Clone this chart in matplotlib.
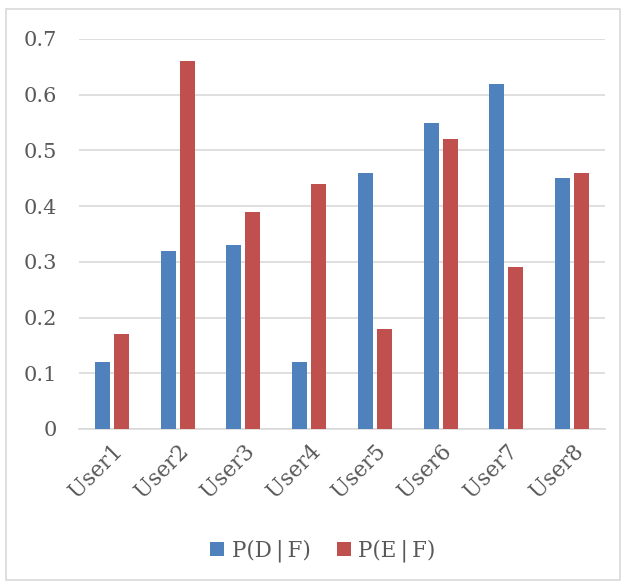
import matplotlib.pyplot as plt
import numpy as np
from matplotlib.patches import Rectangle

plt.rcParams["font.family"] = ["DejaVu Serif"]

users = ["User1", "User2", "User3", "User4", "User5", "User6", "User7", "User8"]
p_d_f = [0.12, 0.32, 0.33, 0.12, 0.46, 0.55, 0.62, 0.45]
p_e_f = [0.17, 0.66, 0.39, 0.44, 0.18, 0.52, 0.29, 0.46]
series_labels = ["P(D\u2009|\u2009F)", "P(E\u2009|\u2009F)"]
y_ticks = [0, 0.1, 0.2, 0.3, 0.4, 0.5, 0.6, 0.7]

BLUE = "#4F81BD"
RED = "#C0504D"
TEXT = "#595959"
GRID = "#D9D9D9"

fig = plt.figure(figsize=(6.29, 5.85), dpi=100)
fig.patches.append(
    Rectangle((6 / 629, 5 / 585), 614 / 629, 571 / 585, transform=fig.transFigure,
              fill=False, edgecolor=GRID, linewidth=1.2)
)

ax = fig.add_axes([79 / 629, 1 - 429 / 585, 526 / 629, 390 / 585])

x = np.arange(len(users))
width = 0.23
offset = 0.145
ax.bar(x - offset, p_d_f, width, color=BLUE, label=series_labels[0], zorder=3)
ax.bar(x + offset, p_e_f, width, color=RED, label=series_labels[1], zorder=3)

ax.set_xlim(-0.5, len(users) - 0.5)
ax.set_ylim(0, 0.7)
ax.set_yticks(y_ticks)
ax.set_yticklabels(["0" if v == 0 else f"{v:.1f}" for v in y_ticks])
ax.yaxis.grid(True, color=GRID, linewidth=1.2, zorder=0)
ax.set_axisbelow(True)

for side in ["top", "right", "left"]:
    ax.spines[side].set_visible(False)
ax.spines["bottom"].set_color(GRID)
ax.spines["bottom"].set_linewidth(1.2)

ax.tick_params(axis="y", length=0, pad=16, labelsize=15, labelcolor=TEXT)
ax.tick_params(axis="x", length=0, pad=8, labelsize=15.5, labelcolor=TEXT)
ax.set_xticks(x)
ax.set_xticklabels(users, rotation=45, ha="right", va="top", rotation_mode="anchor")

fig.legend(loc="center", bbox_to_anchor=(323 / 629, 1 - 551 / 585), ncol=2, frameon=False,
           fontsize=15.5, labelcolor=TEXT, handlelength=0.65, handleheight=0.65,
           handletextpad=0.35, columnspacing=1.2)

fig.savefig("out.png", dpi=100)
